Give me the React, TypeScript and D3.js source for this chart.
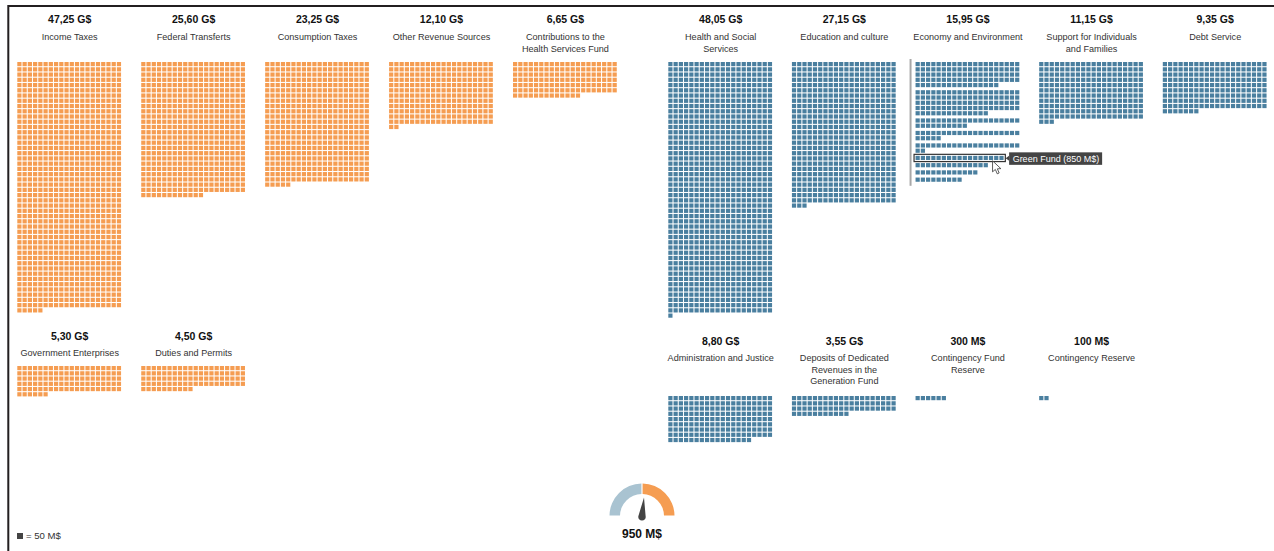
import React from "react";
import * as d3 from "d3";

// Budget amounts in millions of dollars; one square stands for 50 M$.
const UNIT = 50;
const COLUMNS = 20;

const revenueLabels = [
  ["Income Taxes"],
  ["Federal Transferts"],
  ["Consumption Taxes"],
  ["Other Revenue Sources"],
  ["Contributions to the", "Health Services Fund"],
  ["Government Enterprises"],
  ["Duties and Permits"],
];
const revenueAmounts = [47250, 25600, 23250, 12100, 6650, 5300, 4500];

const spendingLabels = [
  ["Health and Social", "Services"],
  ["Education and culture"],
  ["Economy and Environment"],
  ["Support for Individuals", "and Families"],
  ["Debt Service"],
  ["Administration and Justice"],
  ["Deposits of Dedicated", "Revenues in the", "Generation Fund"],
  ["Contingency Fund", "Reserve"],
  ["Contingency Reserve"],
];
const spendingAmounts = [48050, 27150, 15950, 11150, 9350, 8800, 3550, 300, 100];

// Breakdown of the expanded "Economy and Environment" envelope.
const economyParts = [4800, 4700, 1500, 1250, 1100, 850, 700, 600, 450];
const highlightedPart = 5;
const highlightText = "Green Fund (850 M$)";

const surplusText = "950 M$";
const legendText = "= 50 M$";

const ORANGE = "#f59d52";
const BLUE = "#4a7f9f";
const DARK = "#444444";
const FONT = "'Liberation Sans', Arial, Helvetica, sans-serif";

const PITCH = 5.24;
const CELL = 4.2;
const PART_GAP = 2;

const cellX = d3.scaleLinear().domain([0, COLUMNS]).range([0, COLUMNS * PITCH]);
const cellY = d3.scaleLinear().domain([0, 100]).range([0, 100 * PITCH]);

const revenueX = d3.scaleLinear().domain([0, 4]).range([17.3, 513]);
const spendingX = d3.scaleLinear().domain([0, 4]).range([668.3, 1162.8]);

const formatAmount = (m: number) =>
  m >= 1000
    ? `${d3.format(".2f")(m / 1000).replace(".", ",")} G$`
    : `${m} M$`;

function Cells({ count, color }: { count: number; color: string }) {
  return (
    <g fill={color}>
      {d3.range(count).map((i) => (
        <rect
          key={i}
          x={cellX(i % COLUMNS)}
          y={cellY(Math.floor(i / COLUMNS))}
          width={CELL}
          height={CELL}
        />
      ))}
    </g>
  );
}

function Heading({ amount, lines, x, valueY, labelY }: { amount: number; lines: string[]; x: number; valueY: number; labelY: number }) {
  const cx = x + (COLUMNS * PITCH) / 2;
  return (
    <g textAnchor="middle" fontFamily={FONT}>
      <text x={cx} y={valueY} fontSize={10.5} fontWeight={700} fill="#111">
        {formatAmount(amount)}
      </text>
      {lines.map((line, i) => (
        <text key={i} x={cx} y={labelY + i * 11.6} fontSize={9.1} fill="#333">
          {line}
        </text>
      ))}
    </g>
  );
}

function Block({ amount, lines, x, rowY, color }: { amount: number; lines: string[]; x: number; rowY: { value: number; label: number; grid: number }; color: string }) {
  return (
    <g>
      <Heading amount={amount} lines={lines} x={x} valueY={rowY.value} labelY={rowY.label} />
      <g transform={`translate(${x},${rowY.grid})`}>
        <Cells count={Math.round(amount / UNIT)} color={color} />
      </g>
    </g>
  );
}

function EconomyBlock({ x, y }: { x: number; y: number }) {
  let offset = 0;
  const placed = economyParts.map((part) => {
    const count = part / UNIT;
    const rows = Math.ceil(count / COLUMNS);
    const top = offset;
    offset += cellY(rows) + PART_GAP;
    return { count, rows, top };
  });
  const hi = placed[highlightedPart];
  const hiY = y + hi.top;
  const hiW = cellX(hi.count);
  return (
    <g>
      <line x1={x - 5} x2={x - 5} y1={y - 3} y2={y + offset + 1} stroke="#a8a8a8" strokeWidth={2} />
      {placed.map((p, i) => (
        <g key={i} transform={`translate(${x},${y + p.top})`}>
          <Cells count={p.count} color={BLUE} />
        </g>
      ))}
      <rect x={x - 1.5} y={hiY - 1.5} width={hiW + 2.2} height={PITCH + 2} fill="none" stroke="#333" strokeWidth={1.2} />
      <path d={`M${x + hiW + 1},${hiY + 2.5} l3.5,-2.5 v5 z`} fill={DARK} />
      <rect x={x + hiW + 4.5} y={hiY - 3.5} width={93} height={12.5} fill={DARK} />
      <text x={x + hiW + 8} y={hiY + 6} fontSize={9} fontFamily={FONT} fill="#fff">
        {highlightText}
      </text>
      {/* mouse pointer resting on the hovered row */}
      <path
        transform={`translate(${x + 77},${hiY + 5})`}
        d="M0,0 L0,11 L2.8,8.6 L4.7,13 L6.6,12.1 L4.8,8 L8.3,7.8 Z"
        fill="#fff"
        stroke="#333"
        strokeWidth={0.8}
      />
    </g>
  );
}

function Gauge({ cx, cy }: { cx: number; cy: number }) {
  const arc = d3.arc().padAngle(0.03);
  const left = arc({ startAngle: -Math.PI / 2, endAngle: 0, innerRadius: 22, outerRadius: 32.5 }) as string;
  const right = arc({ startAngle: 0, endAngle: Math.PI / 2, innerRadius: 22, outerRadius: 32.5 }) as string;
  return (
    <g transform={`translate(${cx},${cy})`}>
      <path d={left} fill="#a9c3d1" />
      <path d={right} fill={ORANGE} />
      <path d="M-3.6,-1 L2,-19.5 L3.6,-1 A3.7,3.7 0 1 1 -3.6,-1 Z" fill={DARK} transform="translate(0,1)" />
      <text y={21.5} textAnchor="middle" fontFamily={FONT} fontWeight={700} fontSize={12} fill="#111">
        {surplusText}
      </text>
    </g>
  );
}

export default function App() {
  const topRow = { value: 23, label: 40, grid: 62 };
  const revenueLower = { value: 340, label: 356, grid: 366 };
  const spendingLower = { value: 345, label: 361, grid: 396 };

  return (
    <svg
      width={1274}
      height={551}
      style={{ position: "absolute", left: 0, top: 0, background: "#fff" }}
    >
      <path d="M8.3,551 V6 H1274" fill="none" stroke="#231f20" strokeWidth={2} />

      {revenueAmounts.map((amount, i) => (
        <Block
          key={i}
          amount={amount}
          lines={revenueLabels[i]}
          x={revenueX(i < 5 ? i : i - 5)}
          rowY={i < 5 ? topRow : revenueLower}
          color={ORANGE}
        />
      ))}

      {spendingAmounts.map((amount, i) =>
        i === 2 ? (
          <g key={i}>
            <Heading amount={amount} lines={spendingLabels[i]} x={spendingX(2)} valueY={topRow.value} labelY={topRow.label} />
            <EconomyBlock x={spendingX(2)} y={topRow.grid} />
          </g>
        ) : (
          <Block
            key={i}
            amount={amount}
            lines={spendingLabels[i]}
            x={spendingX(i < 5 ? i : i - 5)}
            rowY={i < 5 ? topRow : spendingLower}
            color={BLUE}
          />
        )
      )}

      <Gauge cx={642} cy={516} />

      <rect x={17} y={533} width={6} height={6} fill={DARK} />
      <text x={26} y={539} fontSize={9.6} fontFamily={FONT} fill="#333">
        {legendText}
      </text>
    </svg>
  );
}
